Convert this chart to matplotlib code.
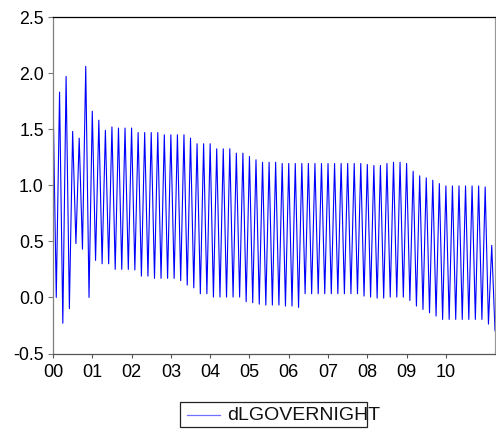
import matplotlib
matplotlib.use("Agg")
import matplotlib.pyplot as plt
from matplotlib.lines import Line2D
from matplotlib.patches import Rectangle

# Monthly series, January 2000 onwards
start_year = 2000
dlg_overnight = [
    1.80, 0.00, 1.83, -0.23, 1.97, -0.10, 1.48, 0.48, 1.42, 0.43,
    2.06, 0.00, 1.66, 0.33, 1.58, 0.30, 1.49, 0.30, 1.52, 0.25,
    1.51, 0.25, 1.51, 0.25, 1.51, 0.245, 1.47, 0.19, 1.47, 0.19,
    1.47, 0.17, 1.47, 0.17, 1.45, 0.17, 1.45, 0.17, 1.45, 0.15,
    1.45, 0.11, 1.42, 0.085, 1.37, 0.033, 1.37, 0.033, 1.37, 0.003,
    1.325, 0.003, 1.325, 0.003, 1.325, 0.003, 1.286, 0.003, 1.286, -0.038,
    1.256, -0.047, 1.227, -0.06, 1.205, -0.068, 1.205, -0.068, 1.205, -0.068,
    1.194, -0.077, 1.194, -0.077, 1.194, -0.089, 1.194, 0.033, 1.194, 0.033,
    1.194, 0.033, 1.194, 0.033, 1.194, 0.033, 1.194, 0.033, 1.194, 0.033,
    1.194, 0.033, 1.194, 0.033, 1.194, 0.012, 1.185, 0.003, 1.176, -0.006,
    1.176, -0.006, 1.194, 0.003, 1.205, 0.003, 1.205, 0.003, 1.194, -0.027,
    1.125, -0.077, 1.084, -0.107, 1.066, -0.137, 1.045, -0.166, 1.015, -0.196,
    0.994, -0.196, 0.994, -0.196, 0.994, -0.196, 0.994, -0.196, 0.994, -0.196,
    0.994, -0.196, 0.985, -0.238, 0.464, -0.297,
]
series_name = "dLGOVERNIGHT"
year_ticks = list(range(2000, 2011))
year_labels = [f"{y % 100:02d}" for y in year_ticks]
y_ticks = [-0.5, 0.0, 0.5, 1.0, 1.5, 2.0, 2.5]

t = [start_year + i / 12 for i in range(len(dlg_overnight))]

plt.rcParams["font.family"] = ["Liberation Sans", "DejaVu Sans"]

fig = plt.figure(figsize=(4.96, 4.32), dpi=100)
ax = fig.add_axes([53 / 496, (432 - 353.5) / 432, 442 / 496, 336.5 / 432])

ax.plot(t, dlg_overnight, color="#0000ff", linewidth=0.8)

ax.set_xlim(t[0], t[-1])
ax.set_ylim(-0.5, 2.5)

ax.set_xticks(year_ticks)
ax.set_xticklabels(year_labels)
ax.set_yticks(y_ticks)
ax.set_yticklabels([f"{v:.1f}" for v in y_ticks])

ax.tick_params(axis="x", direction="out", length=3, width=0.8, color="#555555",
               labelsize=13, pad=4.5)
ax.tick_params(axis="y", direction="out", length=3.6, width=0.8, color="#777777",
               labelsize=12.8, pad=3)

ax.spines["top"].set_color("#000000")
ax.spines["left"].set_color("#808080")
ax.spines["right"].set_color("#999999")
ax.spines["bottom"].set_color("#555555")
for s in ax.spines.values():
    s.set_linewidth(0.9)

# Legend box drawn in pixel-based figure coordinates
W, H = 496, 432
fig.patches.append(Rectangle((180 / W, (H - 426.7) / H), (366.7 - 180) / W, 24.4 / H,
                             transform=fig.transFigure, facecolor="none",
                             edgecolor="#222222", linewidth=0.9))
fig.lines.append(Line2D([186.7 / W, 220 / W], [(H - 415) / H] * 2,
                        transform=fig.transFigure, color="#7070ff", linewidth=0.9))
fig.text(227 / W, (H - 415.5) / H, series_name, fontsize=14,
         va="center", ha="left", color="#111111")

fig.savefig("out.png", dpi=100)
